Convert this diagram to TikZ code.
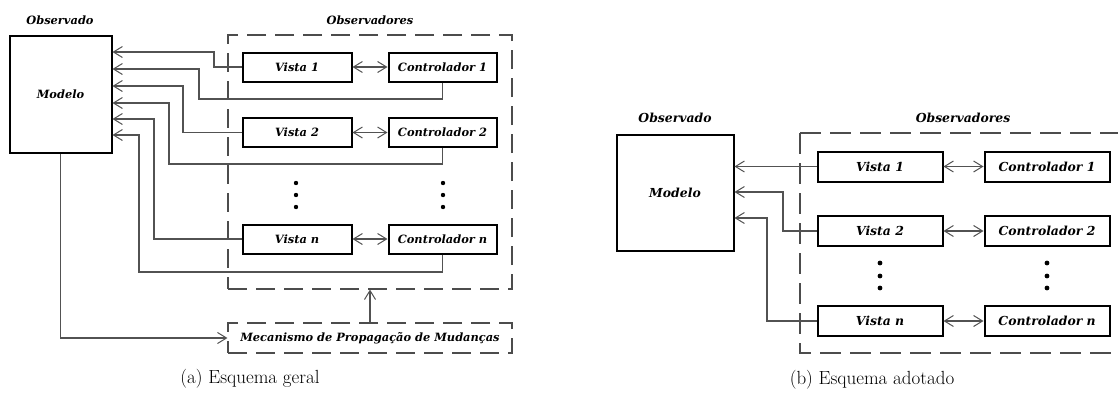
\documentclass[tikz,border=0pt]{standalone}
\usepackage{fontspec}
\newfontfamily\labelfont{DejaVu Serif}
\usetikzlibrary{arrows.meta}
\begin{document}
\begin{tikzpicture}[x=1pt,y=-1pt,
  fa/.style={font=\labelfont\bfseries\itshape\fontsize{11.4}{13}\selectfont},
  fb/.style={font=\labelfont\bfseries\itshape\fontsize{12.4}{14}\selectfont},
  blk/.style={draw=black, line width=2pt, inner sep=0pt, fill=white},
  dbox/.style={draw=black!70, line width=1.1pt, dash pattern=on 19pt off 9pt},
  dboxb/.style={dbox, dash pattern=on 21pt off 9pt},
  wire/.style={draw=black!68, line width=1.1pt},
  tip/.style={-{Straight Barb[length=9pt,width=11pt,line width=1pt]}},
  dtip/.style={{Straight Barb[length=9pt,width=11pt,line width=1pt]}-{Straight Barb[length=9pt,width=11pt,line width=1pt]}},
  captext/.style={font=\fontsize{19}{22}\selectfont}
]
\useasboundingbox (0,0) rectangle (1118,394);

% ---------------- (a) general scheme ----------------
\node[fa] (obsA) at (60,20) {Observado};
\node[fa] (obssA) at (370,20) {Observadores};
\node[blk, fa, minimum width=102pt, minimum height=117pt] (modA) at (60.5,94) {Modelo};

\node[dbox, minimum width=284pt, minimum height=254pt] (groupA) at (370,162) {};
\node[dbox, fa, minimum width=284pt, minimum height=30pt] (mech) at (370,338) {Mecanismo de Propagação de Mudanças};

\node[blk, fa, minimum width=109pt, minimum height=29pt] (v1) at (297,67) {Vista 1};
\node[blk, fa, minimum width=108pt, minimum height=29pt] (c1) at (442.5,67) {Controlador 1};
\node[blk, fa, minimum width=109pt, minimum height=29pt] (v2) at (297,132.5) {Vista 2};
\node[blk, fa, minimum width=108pt, minimum height=29pt] (c2) at (442.5,132.5) {Controlador 2};
\node[blk, fa, minimum width=109pt, minimum height=29pt] (vn) at (297,239) {Vista n};
\node[blk, fa, minimum width=108pt, minimum height=29pt] (cn) at (442.5,239) {Controlador n};

\foreach \yy in {183,195,207}{
  \fill (296,\yy) circle (2.2pt);
  \fill (443,\yy) circle (2.2pt);
}

\draw[wire,dtip] (v1) -- (c1);
\draw[wire,dtip] (v2) -- (c2);
\draw[wire,dtip] (vn) -- (cn);

\coordinate (a1) at (modA.east |- 0,52);
\coordinate (a2) at (modA.east |- 0,69);
\coordinate (a3) at (modA.east |- 0,86);
\coordinate (a4) at (modA.east |- 0,103);
\coordinate (a5) at (modA.east |- 0,119);
\coordinate (a6) at (modA.east |- 0,135);

\draw[wire,tip] (v1.west) -| (214,52) -- (a1);
\draw[wire,tip] (c1.south) |- (199,99) |- (a2);
\draw[wire,tip] (v2.west) -| (183,86) -- (a3);
\draw[wire,tip] (c2.south) |- (169,164) |- (a4);
\draw[wire,tip] (vn.west) -| (154,119) -- (a5);
\draw[wire,tip] (cn.south) |- (139,272) |- (a6);

\draw[wire,tip] (modA.south) |- (mech.west);
\draw[wire,tip] (mech.north) -- (groupA.south);

\node[captext] (capA) at (250,379) {(a) Esquema geral};

% ---------------- (b) adopted scheme ----------------
\node[fb] (obsB) at (675,118) {Observado};
\node[fb] (obssB) at (963,118) {Observadores};
\node[blk, fb, minimum width=117pt, minimum height=116pt] (modB) at (675,192.5) {Modelo};

\coordinate (gTR) at (1122,133);
\coordinate (gTL) at (800,133);
\coordinate (gBL) at (800,353);
\coordinate (gBR) at (1122,353);
\draw[dboxb] (gTL) -- (gTR);
\draw[dboxb] (gTL) -- (gBL) -- (gBR);

\node[blk, fb, minimum width=125pt, minimum height=30pt] (w1) at (880,166.5) {Vista 1};
\node[blk, fb, minimum width=125pt, minimum height=30pt] (k1) at (1047,166.5) {Controlador 1};
\node[blk, fb, minimum width=125pt, minimum height=30pt] (w2) at (880,231) {Vista 2};
\node[blk, fb, minimum width=125pt, minimum height=30pt] (k2) at (1047,231) {Controlador 2};
\node[blk, fb, minimum width=125pt, minimum height=30pt] (wn) at (880,321) {Vista n};
\node[blk, fb, minimum width=125pt, minimum height=30pt] (kn) at (1047,321) {Controlador n};

\foreach \yy in {263,276,288}{
  \fill (880,\yy) circle (2.4pt);
  \fill (1047,\yy) circle (2.4pt);
}

\draw[wire,dtip] (w1) -- (k1);
\draw[wire,dtip] (w2) -- (k2);
\draw[wire,dtip] (wn) -- (kn);

\draw[wire,tip] (w1.west) -- (modB.east |- w1.west);
\draw[wire,tip] (w2.west) -| (783,192) -- (modB.east |- 0,192);
\draw[wire,tip] (wn.west) -| (767,218) -- (modB.east |- 0,218);

\node[captext] (capB) at (872,380) {(b) Esquema adotado};
\end{tikzpicture}
\end{document}
